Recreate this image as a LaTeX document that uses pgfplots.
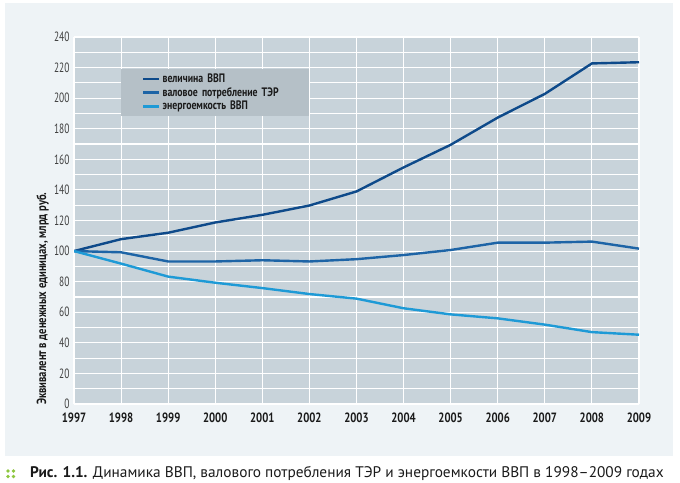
\documentclass[border=0pt]{standalone}
\usepackage{fontspec}
\setmainfont{PT Sans}
\newfontfamily\condfont[FakeStretch=0.8]{PT Sans}
\newfontfamily\tickfont[FakeStretch=0.7]{PT Sans}
\usepackage{pgfplots}
\pgfplotsset{compat=1.18}
\definecolor{panel}{HTML}{EEF3F6}
\definecolor{plotbg}{HTML}{C8D3DA}
\definecolor{legbg}{HTML}{B5C0C7}
\definecolor{cgdp}{HTML}{0E4A8A}
\definecolor{cter}{HTML}{1D64A6}
\definecolor{cen}{HTML}{1E9AD6}
\definecolor{dots}{HTML}{8DC63F}
\definecolor{txt}{HTML}{1A1A1A}
\begin{document}
\begin{tikzpicture}[x=1bp,y=1bp]
\path[use as bounding box] (0,0) rectangle (680,483);
\fill[panel] (5,27) rectangle (673,480);
\begin{axis}[
  at={(74bp,79bp)}, anchor=south west,
  scale only axis, width=565bp, height=367bp,
  xmin=1997, xmax=2009, ymin=0, ymax=240,
  xtick={1997,...,2009},
  xticklabels={1997,1998,1999,2000,2001,2002,2003,2004,2005,2006,2007,2008,2009},
  ytick={0,20,...,240},
  minor ytick={10,30,...,230},
  grid=both,
  major grid style={white, line width=1.1bp},
  minor grid style={white, line width=1.1bp},
  axis background/.style={fill=plotbg},
  axis line style={draw=none},
  major tick length=0pt, minor tick length=0pt,
  /pgf/number format/assume math mode=true,
  x tick label style={font=\condfont\bfseries\fontsize{13.5}{15}\selectfont, text=txt, yshift=-5bp},
  y tick label style={font=\tickfont\fontsize{13.5}{15}\selectfont, text=black!75, xshift=-1bp},
  legend style={at={(rel axis cs:0.0832,0.9128)}, anchor=north west,
    fill=legbg, draw=none, inner xsep=3bp, inner ysep=2.5bp,
    font=\condfont\bfseries\fontsize{12.3}{14}\selectfont, text=txt,
    row sep=-0.5bp,
    /tikz/every even column/.append style={text width=141bp}},
  legend cell align=left,
  legend image code/.code={\path (0bp,0bp); \draw[#1, line width=2.4bp] (18bp,0bp) -- (34bp,0bp);},
]
\addplot[cgdp, line width=2.4bp] coordinates {
(1997,100) (1998,107.8) (1999,112) (2000,118.7) (2001,123.7) (2002,129.8) (2003,139)
(2004,154.7) (2005,169.5) (2006,187.3) (2007,202.8) (2008,222.7) (2009,223.5)};
\addlegendentry{величина ВВП}
\addplot[cter, line width=2.4bp] coordinates {
(1997,100) (1998,99.2) (1999,93.2) (2000,93.2) (2001,94) (2002,93.2) (2003,94.7)
(2004,97.4) (2005,100.7) (2006,105.5) (2007,105.5) (2008,106.2) (2009,101.6)};
\addlegendentry{валовое потребление ТЭР}
\addplot[cen, line width=2.4bp] coordinates {
(1997,100) (1998,91.8) (1999,83.3) (2000,79.3) (2001,75.8) (2002,71.9) (2003,68.9)
(2004,62.6) (2005,58.6) (2006,56) (2007,51.9) (2008,47) (2009,45.3)};
\addlegendentry{энергоемкость ВВП}
\end{axis}
\node[rotate=90, anchor=base west, font=\condfont\bfseries\fontsize{13.3}{15}\selectfont, text=txt, inner sep=0pt]
  at (46,78) {Эквивалент в денежных единицах, млрд руб.};
\foreach \xx in {8,13.5} \foreach \yy in {6.5,12} \fill[dots] (\xx,\yy) circle (1.9bp);
\node[anchor=base west, inner sep=0pt, font=\fontsize{15.4}{17}\selectfont, text=txt] at (30,5)
  {\textbf{Рис. 1.1.} Динамика ВВП, валового потребления ТЭР и энергоемкости ВВП в 1998–2009 годах};
\end{tikzpicture}
\end{document}
